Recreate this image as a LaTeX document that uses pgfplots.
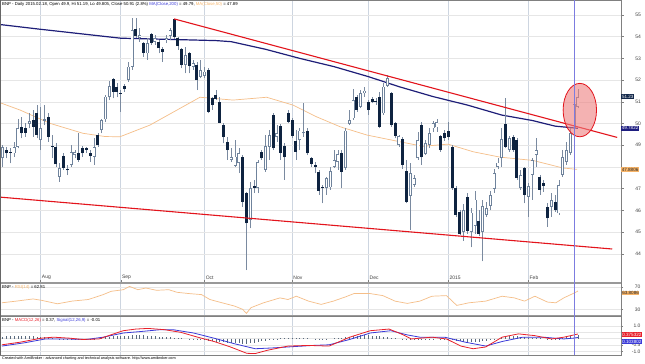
\documentclass[border=0pt]{standalone}
\usepackage{pgfplots}
\pgfplotsset{compat=1.18}
\usepackage{pgfplotstable}
\usepackage{fontspec}
\setmainfont{Liberation Sans}
\definecolor{navyc}{HTML}{0E2340}
\definecolor{upedge}{HTML}{6F839C}
\definecolor{wickc}{HTML}{7A8AA0}
\definecolor{ma200c}{HTML}{1E1E78}
\definecolor{ma50c}{HTML}{F5BE88}
\definecolor{trendc}{HTML}{E3141C}
\definecolor{cursorc}{HTML}{7C7CE0}
\definecolor{gridh}{HTML}{E6E6E6}
\definecolor{gridv}{HTML}{CDD5E0}
\definecolor{macdc}{HTML}{E8202A}
\definecolor{sigc}{HTML}{3A3AD8}
\definecolor{histc}{HTML}{5A6A7E}
\definecolor{boxnavy}{HTML}{13284A}
\definecolor{boxblue}{HTML}{1E1E80}
\definecolor{boxorange}{HTML}{F7B468}
\definecolor{ellfill}{HTML}{EE8080}

\pgfplotstableread{
i o h l c
0 48.40 49.01 48.01 48.93
1 48.78 48.93 48.40 48.62
2 48.70 48.85 48.16 48.65
3 48.62 49.15 48.47 48.93
4 48.93 50.23 48.85 49.80
5 49.85 50.31 49.32 49.55
6 49.80 50.01 49.39 49.58
7 50.00 50.47 49.78 50.10
8 50.16 50.62 49.39 49.85
9 50.47 50.85 49.32 49.47
10 49.24 50.78 48.78 49.78
11 50.11 50.85 49.92 50.20
12 50.31 50.47 49.16 49.39
13 48.98 49.47 48.40 48.93
14 48.93 49.09 48.01 48.12
15 47.55 48.16 47.32 47.93
16 48.50 48.62 47.86 47.97
17 47.90 48.09 47.62 47.84
18 48.09 49.01 48.01 48.70
19 48.55 48.80 48.40 48.68
20 48.62 49.55 48.24 48.32
21 48.85 48.98 48.47 48.62
22 48.85 48.93 48.62 48.80
23 48.62 48.78 48.24 48.50
24 48.47 49.32 48.09 48.93
25 49.47 49.55 48.93 49.01
26 49.70 50.23 49.55 50.16
27 50.19 51.31 50.08 51.24
28 51.21 51.97 51.08 51.73
29 52.03 52.08 51.16 51.47
30 51.70 51.85 51.20 51.47
31 51.42 51.54 50.54 51.35
32 51.73 51.80 51.47 51.58
33 52.01 52.85 51.93 52.62
34 52.62 54.85 52.47 54.31
35 54.34 54.85 53.93 54.03
36 53.93 54.39 53.77 54.08
37 53.70 53.77 53.08 53.26
38 53.23 53.93 52.93 53.70
39 54.12 54.19 53.62 53.70
40 53.77 54.08 53.62 53.93
41 53.77 53.85 53.23 53.46
42 53.43 53.54 52.85 53.31
43 53.85 54.08 53.70 53.95
44 54.03 54.39 53.85 54.31
45 54.80 54.82 53.90 54.00
46 53.93 54.00 53.39 53.57
47 53.43 53.46 52.54 52.70
48 52.70 53.54 52.31 53.16
49 53.23 53.31 52.31 52.65
50 52.62 52.93 52.47 52.77
51 52.70 52.85 51.54 52.00
52 52.16 52.93 52.08 52.47
53 52.19 52.62 52.08 52.39
54 52.47 52.55 50.47 50.54
55 51.16 51.24 50.63 50.86
56 51.32 51.55 51.09 51.12
57 51.01 51.24 50.01 50.04
58 49.93 50.01 49.09 49.37
59 49.17 49.40 48.32 48.78
60 48.32 48.86 48.24 48.47
61 48.05 49.24 48.02 48.48
62 48.17 48.86 47.71 48.63
63 48.48 48.55 46.17 46.40
64 46.82 46.86 43.25 45.40
65 45.56 47.32 45.17 47.02
66 47.12 47.40 46.79 47.05
67 47.02 48.32 46.79 48.24
68 48.70 48.78 48.32 48.40
69 47.86 49.47 47.78 48.97
70 48.94 49.70 48.32 49.47
71 50.40 50.47 48.78 48.86
72 49.40 49.93 49.17 49.55
73 49.90 50.00 48.32 48.65
74 48.97 49.09 47.40 48.44
75 50.47 50.60 50.01 50.09
76 50.17 50.24 49.32 49.43
77 49.21 49.70 48.32 48.71
78 49.24 49.78 48.78 49.67
79 49.55 50.93 49.40 49.63
80 49.67 49.78 48.55 48.63
81 48.40 48.48 48.02 48.14
82 48.09 48.24 47.71 48.02
83 47.78 47.86 46.71 46.91
84 47.07 47.17 46.32 47.02
85 47.02 47.55 46.71 47.48
86 47.06 48.02 46.94 47.82
87 48.02 48.78 47.94 48.32
88 48.25 48.78 47.86 48.60
89 48.63 48.78 47.02 47.78
90 47.94 49.78 47.86 49.67
91 49.98 50.63 49.93 50.17
92 50.24 51.58 50.17 51.09
93 51.21 51.32 50.55 50.63
94 50.78 51.55 50.70 51.39
95 51.39 51.70 51.24 51.52
96 51.01 51.09 50.40 50.63
97 51.12 51.24 50.93 51.01
98 51.05 51.17 50.86 51.00
99 51.24 51.47 49.78 49.86
100 50.47 51.85 50.40 51.70
101 51.73 52.24 51.70 52.08
102 51.39 51.47 49.86 49.93
103 50.01 50.09 49.32 49.43
104 49.01 49.47 48.94 49.43
105 49.30 49.40 47.90 48.10
106 47.83 48.32 46.32 46.40
107 46.66 48.17 45.10 47.71
108 47.17 47.63 47.09 47.48
109 48.40 49.63 48.32 49.24
110 49.93 50.09 48.09 48.44
111 48.60 49.24 48.55 49.09
112 49.01 49.78 48.86 49.55
113 49.78 50.10 49.60 50.01
114 49.82 50.20 49.63 50.05
115 49.42 49.47 48.70 48.78
116 49.58 49.70 49.20 49.32
117 49.66 50.09 49.24 49.37
118 48.90 49.00 46.94 47.02
119 47.05 47.10 45.70 45.79
120 45.94 46.00 44.85 44.91
121 45.00 46.30 44.60 46.00
122 46.60 46.80 44.90 45.05
123 45.00 46.10 44.30 45.90
124 45.30 46.90 44.90 46.50
125 45.50 46.00 44.80 44.90
126 45.00 46.50 43.65 46.20
127 45.80 46.40 45.70 46.10
128 46.20 46.90 46.00 46.70
129 47.00 47.90 46.80 47.70
130 48.00 48.40 47.90 48.20
131 48.40 49.80 48.00 49.30
132 50.00 51.16 48.86 48.94
133 48.78 49.43 48.71 49.32
134 49.40 49.47 48.71 48.78
135 49.24 49.32 47.40 47.48
136 47.02 47.86 46.94 47.63
137 47.94 48.02 46.32 46.71
138 46.63 47.25 45.71 47.12
139 47.63 48.40 46.48 48.32
140 48.55 49.32 48.02 48.78
141 47.55 47.63 46.71 46.94
142 47.25 47.40 46.86 47.14
143 46.17 46.32 45.25 45.63
144 46.17 46.79 45.71 46.48
145 46.40 46.71 45.94 46.02
146 45.86 47.40 45.79 47.17
147 47.63 48.78 47.55 48.47
148 48.24 49.17 48.10 48.78
149 48.64 49.80 48.55 49.56
150 49.90 51.19 49.805 50.91
151 50.77 51.58 50.70 51.23
}\ohlc

\pgfplotstableread{
i v
-0.68 54.56
10 54.34
31 53.93
45 53.87
56 53.82
60 53.77
69 53.42
78 53.00
87 52.62
96 52.16
104 51.70
113 51.24
122 50.85
131 50.39
139 50.14
145 49.88
151 49.78
}\mabig

\pgfplotstableread{
i v
-0.68 50.96
4.6 50.62
12.4 50.01
21.1 49.55
26.9 49.40
30.8 49.39
38.7 49.93
47.3 50.77
51.8 51.21
60.5 51.08
69.3 51.21
76.2 50.85
82.4 50.31
88.6 49.85
95.6 49.47
104.3 49.16
110.3 48.95
116.9 49.05
123.5 48.70
130.6 48.45
139.2 48.30
147.1 47.95
150.8 47.89
}\masmall

\pgfplotstableread{
i v
-0.2 41.7
3.6 44.7
8 48.6
10.1 46.3
14.4 39.9
18.2 44.7
22.5 47.6
26.4 56.4
28.5 62.3
31.7 65.2
33.3 71.1
35.5 65.2
37.6 68.2
40.4 64.1
43.6 65.2
45.8 60.5
49 58.2
52.2 56.4
54.4 47.6
57.6 41.7
60.9 35.8
63 30
64 22.8
65.2 33
68.5 41.7
72.8 50.5
74.9 47.6
77.1 53.5
80.3 44.7
83.6 38.8
86.8 44.7
90 52.3
92.2 58.2
96.5 58.2
99.8 54.6
103 44.7
106.2 40.6
109.5 44.7
112.7 53.5
116.5 54.6
119.2 37
122.4 41.7
126.8 44.7
131.1 53.5
134.3 50.5
137 44.7
139.7 53.5
143 43
145.2 41.7
147.3 50.5
150 59.2
151 62.8
}\rsi

\pgfplotstableread{
i v
-0.2 -0.48
4.7 -0.27
10.1 0.04
13.4 0.12
17.7 0.04
20.9 -0.06
25.3 -0.02
28.4 0.30
31.7 0.63
35 0.76
38.2 0.81
42.5 0.71
46.8 0.50
51.2 0.12
55.5 -0.22
59.8 -0.65
64.1 -1.15
66.3 -1.17
69.5 -0.91
74.9 -0.58
80.3 -0.53
85.7 -0.58
91.1 0.12
96.5 0.63
101.4 0.76
104.6 0.38
107.3 -0.02
112.7 0.12
116.5 -0.02
120.3 -0.58
123.5 -0.79
126.8 -0.65
131.1 0.12
135.4 0.38
139.7 0.24
144.1 -0.02
147.3 0.12
150 0.30
151 0.37
}\macd

\pgfplotstableread{
i v
-0.2 -0.58
5.8 -0.32
11.2 -0.02
16.6 -0.02
22 -0.06
26.4 0.12
31.7 0.45
36.1 0.56
41.4 0.71
44.7 0.71
50.1 0.45
55.5 0.04
60.9 -0.40
66.3 -0.79
70.6 -0.73
74.9 -0.65
81.4 -0.53
85.7 -0.48
91.1 -0.06
96.5 0.45
101.9 0.63
106.2 0.30
109.5 0.12
116 0.12
121.4 -0.27
126.8 -0.58
131.1 -0.22
136.5 0.12
141.9 0.12
147.3 -0.02
150 0.05
151 0.10
}\signal

\pgfplotstableread{
i h
0 0.15
1 0.18
2 0.20
3 0.20
4 0.22
5 0.22
6 0.20
7 0.20
8 0.18
9 0.15
10 0.12
11 0.10
12 0.08
13 0.05
14 0.00
15 -0.03
16 -0.05
17 -0.06
18 -0.06
19 -0.05
20 -0.05
21 -0.04
22 -0.03
23 -0.03
24 -0.02
25 0.00
26 0.05
27 0.10
28 0.15
29 0.18
30 0.20
31 0.20
32 0.22
33 0.25
34 0.30
35 0.32
36 0.30
37 0.27
38 0.25
39 0.22
40 0.20
41 0.17
42 0.14
43 0.12
44 0.10
45 0.08
46 0.05
47 0.02
48 0.00
49 -0.03
50 -0.05
51 -0.08
52 -0.10
53 -0.12
54 -0.18
55 -0.20
56 -0.22
57 -0.25
58 -0.28
59 -0.30
60 -0.32
61 -0.33
62 -0.35
63 -0.38
64 -0.40
65 -0.35
66 -0.30
67 -0.25
68 -0.20
69 -0.15
70 -0.10
71 -0.06
72 -0.03
73 0.03
74 0.05
75 0.06
76 0.06
77 0.05
78 0.04
79 0.03
80 0.02
81 0.00
82 -0.02
83 -0.03
84 -0.03
85 -0.02
86 0.00
87 0.02
88 0.04
89 0.08
90 0.12
91 0.16
92 0.20
93 0.25
94 0.28
95 0.30
96 0.28
97 0.25
98 0.22
99 0.18
100 0.15
101 0.12
102 0.08
103 0.04
104 0.00
105 -0.05
106 -0.08
107 -0.10
108 -0.10
109 -0.08
110 -0.06
111 -0.05
112 -0.03
113 -0.02
114 0.00
115 -0.02
116 -0.03
117 -0.05
118 -0.10
119 -0.15
120 -0.20
121 -0.22
122 -0.25
123 -0.25
124 -0.25
125 -0.22
126 -0.20
127 -0.15
128 -0.10
129 -0.05
130 0.00
131 0.08
132 0.15
133 0.20
134 0.22
135 0.20
136 0.15
137 0.10
138 0.05
139 0.05
140 0.06
141 0.03
142 0.00
143 -0.05
144 -0.06
145 -0.06
146 -0.04
147 0.02
148 0.10
149 0.18
150 0.26
151 0.33
}\hist

\pgfplotsset{
  pane/.style={
    scale only axis, width=621bp, xmin=-0.68, xmax=162.31,
    axis line style={draw=black!50, line width=0.5bp},
    xtick={10,31,53,76,96,117,138},
    xmajorgrids, ymajorgrids,
    major x grid style={color=gridv, line width=0.45bp},
    major y grid style={color=gridh, line width=0.45bp},
    xtick pos=bottom, ytick pos=right, yticklabel pos=right,
    tick align=outside, major tick length=2bp,
    tick style={draw=black!50, line width=0.4bp},
    clip mode=individual,
    /pgf/number format/assume math mode=true,
    yticklabel style={font=\fontsize{5}{6}\selectfont, text=black!75, anchor=east, xshift=21bp},
  },
  candle/.style={only marks, mark=*, mark size=0.05pt,
    mark options={draw opacity=0, fill opacity=0}, unbounded coords=discard},
  error bars/nomark/.style={error mark=none},
}

\begin{document}
\begin{tikzpicture}[x=1bp,y=1bp]
\useasboundingbox (0,0) rectangle (645,363);
\fill[white] (0,0) rectangle (645,363);

% ---------- main price pane ----------
\begin{axis}[pane, at={(0bp,81bp)}, anchor=south west, height=282bp,
  ymin=42.70, ymax=55.69, ytick={44,45,...,55},
  yticklabels={44,45,46,47,,49,50,51,52,53,54,55},
  xticklabels={Aug,Sep,Oct,Nov,Dec,2015,Feb},
  xticklabel style={anchor=south west, font=\fontsize{5}{6}\selectfont, text=black!75, inner sep=0.5bp, xshift=0.6bp, yshift=1.5bp},
  major x tick style={draw=black!50}, xtick align=inside, major tick length=2.5bp]
  \addplot[ma50c, line width=0.7bp, mark=none] table[x=i,y=v] \masmall;
  \addplot[ma200c, line width=1.2bp, mark=none] table[x=i,y=v] \mabig;
  % wicks
  \addplot[candle, error bars/.cd, y dir=plus, y explicit, nomark,
    error bar style={wickc, line width=0.6bp, line cap=butt}]
    table[x=i, y=l, y error plus expr=\thisrow{h}-\thisrow{l}] \ohlc;
  % falling bodies (rising rows discarded as nan)
  \addplot[candle, error bars/.cd, y dir=plus, y explicit, nomark,
    error bar style={navyc, line width=3.0bp, line cap=butt}]
    table[x=i, y expr={\thisrow{o}>\thisrow{c} ? \thisrow{c} : nan}, y error plus expr={abs(\thisrow{o}-\thisrow{c})}] \ohlc;
  % rising bodies: outline then white inside
  \addplot[candle, error bars/.cd, y dir=plus, y explicit, nomark,
    error bar style={upedge, line width=3.0bp, line cap=butt}]
    table[x=i, y expr={\thisrow{c}>=\thisrow{o} ? \thisrow{o} : nan}, y error plus expr={abs(\thisrow{c}-\thisrow{o})}] \ohlc;
  \addplot[candle, error bars/.cd, y dir=plus, y explicit, nomark,
    error bar style={white, line width=1.5bp, line cap=butt}]
    table[x=i, y expr={\thisrow{c}-\thisrow{o}>0.09 ? \thisrow{o}+0.036 : nan}, y error plus expr={abs(\thisrow{c}-\thisrow{o}-0.072)}] \ohlc;
  % trend lines
  \addplot[trendc, line width=1.1bp, mark=none] coordinates {(45,54.82) (161.3,49.36)};
  \addplot[trendc, line width=1.1bp, mark=none] coordinates {(-0.68,46.61) (160,44.22)};
  % highlight ellipse
  \draw[trendc, line width=0.8bp, fill=ellfill, fill opacity=0.6] (axis cs:151.5,50.62) ellipse [x radius=16.7bp, y radius=26.7bp];
  % value boxes
  \node[fill=boxnavy, text=white, anchor=west, inner xsep=0.8bp, inner ysep=0.8bp, font=\fontsize{4.6}{5}\selectfont] at (axis cs:162.31,51.23) {51.23};
  \node[fill=boxblue, text=white, anchor=west, inner xsep=0.6bp, inner ysep=0.8bp, font=\fontsize{4.6}{5}\selectfont] at (axis cs:162.31,49.78) {49.7822};
  \node[fill=boxorange, text=black!85, anchor=west, inner xsep=0.6bp, inner ysep=0.8bp, font=\fontsize{4.6}{5}\selectfont] at (axis cs:162.31,47.88) {47.8806};
\end{axis}

% ---------- RSI pane ----------
\begin{axis}[pane, at={(0bp,47.5bp)}, anchor=south west, height=32.5bp,
  ymin=18.9, ymax=77.2, ytick={30,70}, xticklabels={},
  major x tick style={draw=none}]
  \addplot[ma50c, line width=0.7bp, mark=none] table[x=i,y=v] \rsi;
\end{axis}

% ---------- MACD pane ----------
\begin{axis}[pane, at={(0bp,8bp)}, anchor=south west, height=39bp,
  ymin=-1.283, ymax=1.787, ytick={-1,-0.5,0,0.5,1},
  yticklabels={-1.0,-0.5,,,1.0}, xticklabels={},
  major x tick style={draw=none}]
  \addplot[ycomb, histc, line width=0.6bp, mark=none] table[x=i,y=h] \hist;
  \addplot[sigc, line width=0.8bp, mark=none] table[x=i,y=v] \signal;
  \addplot[macdc, line width=0.8bp, mark=none] table[x=i,y=v] \macd;
\end{axis}

% pane separators, cursor
\fill[black!40] (0,79.3) rectangle (621,81.5);
\fill[black!40] (0,46.7) rectangle (621,47.9);
\draw[cursorc, line width=0.7bp] (574.1,8) -- (574.1,363);
\draw[black!60, line width=0.8bp] (0.4,8) -- (0.4,363);

% value boxes lower panes
\node[fill=boxorange, text=black!85, anchor=west, inner xsep=0.6bp, inner ysep=0.8bp, font=\fontsize{4.6}{5}\selectfont] at (621.5,70) {63.8086};
\node[fill=macdc, text=white, anchor=west, inner xsep=0.6bp, inner ysep=0.8bp, font=\fontsize{4.6}{5}\selectfont] at (621.5,28.5) {0.375322};
\node[fill=sigc, text=white, anchor=west, inner xsep=0.6bp, inner ysep=0.8bp, font=\fontsize{4.6}{5}\selectfont] at (621.5,21.3) {0.103802};

% titles
\node[anchor=west, inner sep=0, font=\fontsize{4.3}{5}\selectfont] at (2,358.6)
  {BNP - Daily 2015.02.18, Open 49.9, Hi 51.19, Lo 49.805, Close 50.91 (2.8\%) \textcolor{sigc}{MA(Close,200)} = 49.79, \textcolor{boxorange}{MA(Close,50)} = 47.89};
\node[anchor=west, inner sep=0, font=\fontsize{4.3}{5}\selectfont] at (2,75.3)
  {BNP - \textcolor{boxorange}{RSI(14)} = 62.81};
\node[anchor=west, inner sep=0, font=\fontsize{4.3}{5}\selectfont] at (2,42.2)
  {BNP - \textcolor{macdc}{MACD(12,26)} = 0.37, \textcolor{sigc}{Signal(12,26,9)} = -0.01};
\node[anchor=west, inner sep=0, font=\fontsize{3.8}{4.5}\selectfont] at (2,4.3)
  {Created with AmiBroker - advanced charting and technical analysis software. http://www.amibroker.com};
\end{tikzpicture}
\end{document}
